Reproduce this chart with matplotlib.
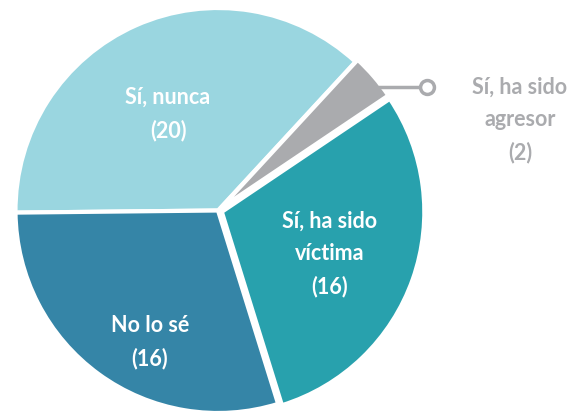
import matplotlib.pyplot as plt

# respuestas (orden horario desde la izquierda)
labels = ['Sí, nunca', 'Sí, ha sido agresor', 'Sí, ha sido víctima', 'No lo sé']
values = [20, 2, 16, 16]
colors = ['#9ad6e0', '#aaabae', '#28a1ad', '#3585a7']
explode = [0, 0.015, 0.02, 0]

W, H = 572, 413
CX, CY, R = 218, 210.5, 202.5  # pie centre / radius in pixels


def px(x, y):
    return (x - CX) / R, (CY - y) / R


fig = plt.figure(figsize=(W / 100, H / 100), dpi=100)
ax = fig.add_axes([0, 0, 1, 1])
ax.pie(values, colors=colors, startangle=180.6, counterclock=False, explode=explode,
       radius=1, wedgeprops=dict(edgecolor='white', linewidth=3))
ax.set_xlim(-CX / R, (W - CX) / R)
ax.set_ylim(-(H - CY) / R, CY / R)
ax.set_aspect('auto')
ax.axis('off')

font = dict(family=['Lato', 'DejaVu Sans'], fontweight='bold', fontsize=15.5,
            ha='center', va='center', linespacing=1.65)

ax.text(*px(168, 114), f'{labels[0]}\n({values[0]})', color='white', **font)
ax.text(*px(330, 254), 'Sí, ha sido\nvíctima\n({})'.format(values[2]), color='white', **font)
ax.text(*px(150, 342), f'{labels[3]}\n({values[3]})', color='white', **font)
ax.text(*px(520, 120), 'Sí, ha sido\nagresor\n({})'.format(values[1]), color='#aaabae', **font)

# conector del segmento pequeño
x0, y0 = px(378, 87)
x1, y1 = px(427, 87)
ax.plot([x0, x1], [y0, y1], color='#aaabae', lw=2.5, solid_capstyle='butt')
ax.plot([x1], [y1], 'o', ms=10, mfc='white', mec='#aaabae', mew=2.5)

fig.savefig('out.png', dpi=100)
